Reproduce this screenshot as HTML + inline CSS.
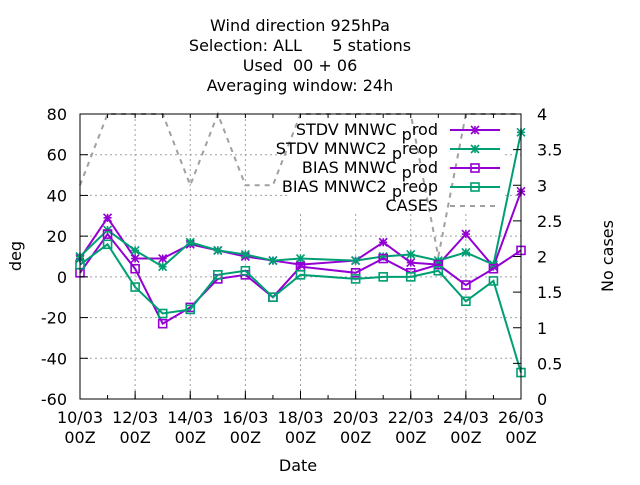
<!DOCTYPE html>
<html><head><meta charset="utf-8"><style>
body{margin:0;background:#fff}
svg text{font-family:"DejaVu Sans","Liberation Sans",sans-serif;fill:#000}
</style></head><body>
<svg id="chart" width="640" height="480" viewBox="0 0 640 480" xmlns="http://www.w3.org/2000/svg">
<rect width="640" height="480" fill="#fff"/>
<g font-size="16" text-anchor="middle">
<text x="300" y="31">Wind direction 925hPa</text>
<text x="300" y="51" xml:space="preserve">Selection: ALL      5 stations</text>
<text x="300" y="71" xml:space="preserve">Used  00 + 06</text>
<text x="300" y="91">Averaging window: 24h</text>
</g>
<g id="grid"></g>
<rect x="287" y="115" width="218" height="96" fill="#fff"/>
<g id="series"></g>
<g id="axes"></g>
<g id="legend" font-size="16"></g>
<text x="298" y="471" font-size="16" text-anchor="middle">Date</text>
<text transform="translate(21,256) rotate(-90)" font-size="16" text-anchor="middle">deg</text>
<text transform="translate(613,256) rotate(-90)" font-size="16" text-anchor="middle">No cases</text>
</svg>
<script>
const days = [10,11,12,13,14,15,16,17,18,20,21,22,23,24,25,26];
const stdvProd = [9,29,9,9,16,13,10,8,6,8,17,7,6,21,5,42];
const stdvPreop = [10,23,13,5,17,13,11,8,9,8,10,11,8,12,6,71];
const biasProd = [2,21,4,-23,-15,-1,1,-10,5,2,9,2,6,-4,4,13];
const biasPreop = [6,16,-5,-18,-16,1,3,-10,1,-1,0,0,3,-12,-2,-47];
const cases = [3,4,4,4,3,4,3,3,4,4,4,4,2,4,4,4];
const yTicks = [-60,-40,-20,0,20,40,60,80];
const y2Ticks = [0,0.5,1,1.5,2,2.5,3,3.5,4];
const xTickDays = [10,12,14,16,18,20,22,24,26];
const X0=80,X1=521,Y0=114,Y1=399;
const xs=d=>X0+(d-10)*(X1-X0)/16;
const ys=v=>Y1-(v+60)*(Y1-Y0)/140;
const y2s=v=>Y1-v*(Y1-Y0)/4;
const NS='http://www.w3.org/2000/svg';
function mk(t,a,p){const e=document.createElementNS(NS,t);for(const k in a)e.setAttribute(k,a[k]);p.appendChild(e);return e;}
const grid=document.getElementById('grid'),axes=document.getElementById('axes'),ser=document.getElementById('series'),leg=document.getElementById('legend');
yTicks.forEach(v=>{const y=ys(v);
 if(v>-60&&v<80){const g=mk('line',{x1:X0,x2:X1,y1:y,y2:y,stroke:'#a0a0a0','stroke-dasharray':'2,3'},grid);
 
 }
 mk('line',{x1:X0,x2:X0+8,y1:y,y2:y,stroke:'#000'},axes);
 const t=mk('text',{x:X0-13,y:y+6,'font-size':16,'text-anchor':'end'},axes);t.textContent=v;
 
 
});
y2Ticks.forEach(v=>{const y=y2s(v);
 mk('line',{x1:X1-8,x2:X1,y1:y,y2:y,stroke:'#000'},axes);
 const t=mk('text',{x:X1+16,y:y+6,'font-size':16},axes);t.textContent=v;
 
 
});
for(let d=10;d<=26;d++){const x=xs(d);
 mk('line',{x1:x,x2:x,y1:Y1,y2:Y1-4,stroke:'#000'},axes);
 mk('line',{x1:x,x2:x,y1:Y0,y2:Y0+4,stroke:'#000'},axes);}
xTickDays.forEach(d=>{const x=xs(d);
 if(d>10&&d<26){const g=mk('line',{x1:x,x2:x,y1:Y0,y2:Y1,stroke:'#a0a0a0','stroke-dasharray':'2,3'},grid);
 
 }
 mk('line',{x1:x,x2:x,y1:Y1,y2:Y1-8,stroke:'#000'},axes);
 const t=mk('text',{x:x,y:423,'font-size':16,'text-anchor':'middle'},axes);t.textContent=d+'/03';
 
 
 const t2=mk('text',{x:x,y:443,'font-size':16,'text-anchor':'middle'},axes);t2.textContent='00Z';
 
 
});
mk('rect',{x:X0,y:Y0,width:X1-X0,height:Y1-Y0,fill:'none',stroke:'#000'},axes);
function star(x,y,c,p){const s=4;mk('path',{d:`M${x-s} ${y}h${2*s}M${x} ${y-s}v${2*s}M${x-s} ${y-s}l${2*s} ${2*s}M${x-s} ${y+s}l${2*s} ${-2*s}`,stroke:c,'stroke-width':1.6,fill:'none'},p);}
function sq(x,y,c,p){mk('rect',{x:x-4,y:y-4,width:8,height:8,stroke:c,'stroke-width':1.6,fill:'none'},p);}
const defs=[
 {name:'stdv-mnwc-prod',vals:stdvProd,c:'#9400d3',m:star,lab:['STDV MNWC','rod']},
 {name:'stdv-mnwc2-preop',vals:stdvPreop,c:'#009e73',m:star,lab:['STDV MNWC2','reop']},
 {name:'bias-mnwc-prod',vals:biasProd,c:'#9400d3',m:sq,lab:['BIAS MNWC','rod']},
 {name:'bias-mnwc2-preop',vals:biasPreop,c:'#009e73',m:sq,lab:['BIAS MNWC2','reop']}];
const cl=mk('polyline',{points:days.map((d,i)=>xs(d)+','+y2s(cases[i])).join(' '),fill:'none',stroke:'#a0a0a0','stroke-width':2,'stroke-dasharray':'5,5'},ser);


defs.forEach(s=>{const g=mk('g',{},ser);
 
 
 mk('polyline',{points:days.map((d,i)=>xs(d)+','+ys(s.vals[i])).join(' '),fill:'none',stroke:s.c,'stroke-width':2},g);
 days.forEach((d,i)=>s.m(xs(d),ys(s.vals[i]),s.c,g));
});
const ly=[130,149,168,187,206];
defs.forEach((s,i)=>{const y=ly[i];
 const t=mk('text',{x:438,y:y+5,'text-anchor':'end'},leg);
 
 
 const a=mk('tspan',{},t);a.textContent=s.lab[0];
 const b=mk('tspan',{dy:5},t);b.textContent=' p';
 const c=mk('tspan',{dy:-5},t);c.textContent=s.lab[1];
 mk('line',{x1:450,x2:500,y1:y,y2:y,stroke:s.c,'stroke-width':2},leg);
 s.m(475,y,s.c,leg);
});
const ct=mk('text',{x:438,y:ly[4]+5,'text-anchor':'end'},leg);ct.textContent='CASES';


mk('line',{x1:450,x2:500,y1:ly[4],y2:ly[4],stroke:'#a0a0a0','stroke-width':2,'stroke-dasharray':'5,5'},leg);
</script>
</body></html>
